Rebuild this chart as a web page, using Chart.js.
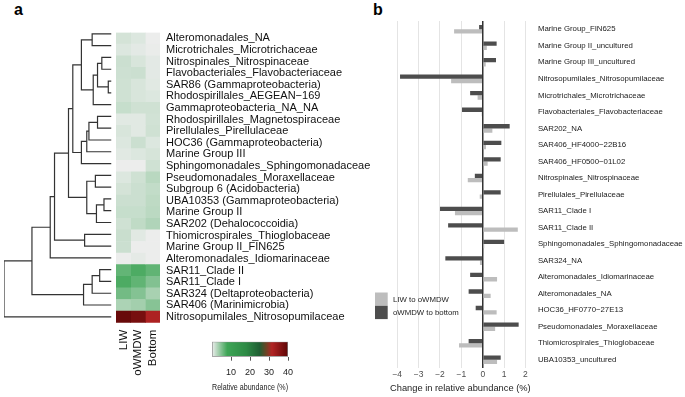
<!DOCTYPE html>
<html>
<head>
<meta charset="utf-8">
<script src="https://cdn.jsdelivr.net/npm/chart.js@4"></script>
<style>
  html, body { margin: 0; padding: 0; background: #fff; }
  #wrap { position: relative; width: 685px; height: 397px; overflow: hidden; font-family: "Liberation Sans", Arial, sans-serif; }
  canvas { position: absolute; }
  .panel { position: absolute; font-weight: bold; font-size: 16px; line-height: 16px; color: #000; }
</style>
</head>
<body>
<div id="wrap">
  <div class="panel" style="left:14px; top:1.5px">a</div>
  <div class="panel" style="left:373px; top:1.5px">b</div>
  <canvas id="dendro" width="116" height="310" style="left:0px; top:20px"></canvas>
  <canvas id="heat" width="260" height="375" style="left:110px; top:20px"></canvas>
  <canvas id="scale" width="110" height="67" style="left:195px; top:330px"></canvas>
  <canvas id="change" width="325" height="397" style="left:360px; top:0px"></canvas>
</div>
<script>
// panel a: heatmap rows (top to bottom) and relative abundance (%) per water mass
const rowNames = [
  "Alteromonadales_NA", "Microtrichales_Microtrichaceae", "Nitrospinales_Nitrospinaceae",
  "Flavobacteriales_Flavobacteriaceae", "SAR86 (Gammaproteobacteria)", "Rhodospirillales_AEGEAN\u2212169",
  "Gammaproteobacteria_NA_NA", "Rhodospirillales_Magnetospiraceae", "Pirellulales_Pirellulaceae",
  "HOC36 (Gammaproteobacteria)", "Marine Group III", "Sphingomonadales_Sphingomonadaceae",
  "Pseudomonadales_Moraxellaceae", "Subgroup 6 (Acidobacteria)", "UBA10353 (Gammaproteobacteria)",
  "Marine Group II", "SAR202 (Dehalococcoidia)", "Thiomicrospirales_Thioglobaceae",
  "Marine Group II_FIN625", "Alteromonadales_Idiomarinaceae", "SAR11_Clade II", "SAR11_Clade I",
  "SAR324 (Deltaproteobacteria)", "SAR406 (Marinimicrobia)", "Nitrosopumilales_Nitrosopumilaceae"
];
const columns = ["LIW", "oWMDW", "Bottom"];
const liw    = [1.2, 0.8, 1.6, 1.5, 1.4, 1.4, 1.8, 0.6, 1.0, 0.8, 0.6, 0.1, 0.8, 1.2, 1.6, 1.8, 1.4, 1.7, 1.6, 0.1, 6.3, 7.3, 5.6, 3.0, 39];
const owmdw  = [0.8, 0.5, 1.0, 1.6, 1.0, 1.0, 1.4, 0.6, 0.6, 1.6, 0.8, 0.1, 1.4, 1.6, 1.6, 1.8, 2.1, 0.6, 0.1, 0.4, 7.3, 6.4, 4.8, 3.4, 37.5];
const bottom = [0.1, 0.2, 0.5, 0.5, 0.6, 0.8, 1.4, 1.3, 1.4, 0.8, 1.1, 1.4, 2.4, 2.0, 2.2, 2.3, 2.8, 0.1, 0.1, 0.1, 6.4, 4.9, 3.2, 4.7, 32];
const legendTicks = [10, 20, 30, 40];

// dendrogram: [height, left, right], leaves are row indices
const tree = [1.0,
  [0.74,
    [0.57,
      [0.53,
        [0.40,
          [0.36,
            [0.28, [0.18, 0, 1], [0.17, [0.13, [0.09, 2, 3], [0.03, 4, 5]], 6]],
            [0.28, [0.23, [0.21, [0.13, 7, 8], 9], 10], 11]
          ],
          [0.23, [0.15, 12, 13], [0.14, [0.07, 14, 15], 16]]
        ],
        [0.25, 17, 18]
      ],
      19
    ],
    [0.26, [0.18, [0.11, 20, 21], 22], 23]
  ],
  24
];

// panel b
const changeCats = [
  "Marine Group_FIN625", "Marine Group II_uncultured", "Marine Group III_uncultured",
  "Nitrosopumilales_Nitrosopumilaceae", "Microtrichales_Microtrichaceae", "Flavobacteriales_Flavobacteriaceae",
  "SAR202_NA", "SAR406_HF4000\u221222B16", "SAR406_HF0500\u221201L02", "Nitrospinales_Nitrospinaceae",
  "Pirellulales_Pirellulaceae", "SAR11_Clade I", "SAR11_Clade II", "Sphingomonadales_Sphingomonadaceae",
  "SAR324_NA", "Alteromonadales_Idiomarinaceae", "Alteromonadales_NA", "HOC36_HF0770\u221227E13",
  "Pseudomonadales_Moraxellaceae", "Thiomicrospirales_Thioglobaceae", "UBA10353_uncultured"
];
const liwToOwmdw    = [-1.34, 0.19, 0.14, -1.48, -0.24, -0.05, 0.45, 0.15, 0.23, -0.70, -0.14, -1.30, 1.64, 0.07, -0.13, 0.67, 0.37, 0.65, 0.58, -1.11, 0.67];
const owmdwToBottom = [-0.17, 0.65, 0.62, -3.87, -0.59, -0.97, 1.26, 0.87, 0.84, -0.37, 0.84, -2.00, -1.62, 1.00, -1.75, -0.59, -0.66, -0.33, 1.68, -0.66, 0.84];
const changeTicks = [-4, -3, -2, -1, 0, 1, 2];

const colorStops = [
  [0, "#eeeeee"], [8, "#3ea556"], [18, "#2d8a45"], [25, "#1f5e33"],
  [28.5, "#6b4424"], [31.5, "#b22424"], [40, "#5e0606"]
];

Chart.defaults.font.family = '"Liberation Sans", Arial, sans-serif';
Chart.defaults.color = "#222";
Chart.defaults.animation = false;
Chart.defaults.plugins.legend.display = false;
Chart.defaults.plugins.tooltip.enabled = false;

function hexRgb(h) {
  return [1, 3, 5].map((i) => parseInt(h.slice(i, i + 2), 16));
}

function colorFor(v) {
  for (let i = 1; i < colorStops.length; i++) {
    const [v0, c0] = colorStops[i - 1];
    const [v1, c1] = colorStops[i];
    if (v <= v1 || i === colorStops.length - 1) {
      const t = Math.max(0, Math.min(1, (v - v0) / (v1 - v0)));
      const a = hexRgb(c0), b = hexRgb(c1);
      const rgb = a.map((x, k) => Math.round(x + (b[k] - x) * t));
      return `rgb(${rgb.join(",")})`;
    }
  }
}

// ---- dendrogram ----
const segments = [];
function walk(node) {
  if (typeof node === "number") return { h: 0, y: node };
  const [h, l, r] = node;
  const a = walk(l), b = walk(r);
  segments.push([
    { x: a.h, y: a.y }, { x: h, y: a.y }, { x: h, y: b.y }, { x: b.h, y: b.y }
  ]);
  return { h: h, y: (a.y + b.y) / 2 };
}
walk(tree);

new Chart(document.getElementById("dendro"), {
  type: "scatter",
  data: {
    datasets: segments.map((pts) => ({
      data: pts,
      showLine: true,
      borderColor: "#333",
      borderWidth: 1.2,
      pointRadius: 0,
    })),
  },
  options: {
    responsive: false,
    layout: { padding: { left: 4, right: 4.5, top: 8, bottom: 7.3 } },
    scales: {
      x: { type: "linear", min: 0, max: 1, reverse: true, display: false },
      y: { type: "linear", min: -0.5, max: 24.5, reverse: true, display: false },
    },
  },
});

// ---- heatmap ----
const columnValues = [liw, owmdw, bottom];
new Chart(document.getElementById("heat"), {
  type: "bar",
  data: {
    labels: rowNames,
    datasets: columnValues.map((vals, c) => ({
      label: columns[c],
      data: vals.map(() => [c, c + 1]),
      backgroundColor: vals.map(colorFor),
      borderWidth: 0,
      barPercentage: 1,
      categoryPercentage: 1,
      grouped: false,
    })),
  },
  options: {
    responsive: false,
    indexAxis: "y",
    layout: { padding: { left: 6, top: 8, right: 0, bottom: 0 } },
    scales: {
      x: { type: "linear", min: 0, max: 3, display: false },
      cols: {
        type: "category",
        labels: columns,
        position: "bottom",
        offset: true,
        grid: { display: false, drawTicks: false },
        border: { display: false },
        ticks: { autoSkip: false, minRotation: 90, maxRotation: 90, padding: 7, color: "#111", font: { size: 11.5 } },
        afterFit: (s) => { s.height = 72.3; },
      },
      y: {
        type: "category",
        position: "right",
        grid: { display: false, drawTicks: false },
        border: { display: false },
        ticks: { autoSkip: false, padding: 6, color: "#111", font: { size: 11 } },
        afterFit: (s) => { s.width = 210; },
      },
    },
  },
});

// ---- colour key ----
new Chart(document.getElementById("scale"), {
  type: "bar",
  data: {
    labels: ["key"],
    datasets: [{
      data: [[0, 40]],
      backgroundColor: (ctx) => {
        const chart = ctx.chart;
        if (!chart.chartArea) return "#eee";
        const xs = chart.scales.x;
        const g = chart.ctx.createLinearGradient(xs.getPixelForValue(0), 0, xs.getPixelForValue(40), 0);
        colorStops.forEach(([v, col]) => g.addColorStop(v / 40, col));
        return g;
      },
      borderColor: "#8a8a8a",
      borderWidth: 1,
      borderSkipped: false,
      barPercentage: 1,
      categoryPercentage: 1,
    }],
  },
  options: {
    responsive: false,
    indexAxis: "y",
    layout: { padding: { left: 17, right: 17, top: 11.7, bottom: 0 } },
    scales: {
      x: {
        type: "linear",
        min: 0,
        max: 40,
        afterBuildTicks: (s) => { s.ticks = legendTicks.map((v) => ({ value: v })); },
        grid: { drawOnChartArea: false, drawTicks: true, tickLength: 4, color: "#555" },
        border: { display: false },
        ticks: { padding: 6, maxRotation: 0, color: "#222", font: { size: 9 } },
        title: { display: true, text: "Relative abundance (%)", color: "#222", font: { size: 9 }, padding: { top: 2, bottom: 4 } },
        afterFit: (s) => { s.height = 40.3; },
      },
      y: { display: false },
    },
  },
});

// ---- panel b ----
const boxLegend = {
  id: "boxLegend",
  afterDraw(chart) {
    const c = chart.ctx;
    const items = chart.data.datasets.slice().reverse();
    c.save();
    c.font = '7.8px "Liberation Sans", Arial, sans-serif';
    c.textBaseline = "middle";
    items.forEach((ds, i) => {
      const y = 292.5 + i * 13.3;
      c.fillStyle = ds.backgroundColor;
      c.fillRect(15, y, 12.7, 13.3);
      c.fillStyle = "#222";
      c.fillText(ds.label, 33, y + 6.9);
    });
    c.restore();
  },
};

new Chart(document.getElementById("change"), {
  type: "bar",
  data: {
    labels: changeCats,
    datasets: [
      { label: "oWMDW to bottom", data: owmdwToBottom, backgroundColor: "#4d4d4d" },
      { label: "LIW to oWMDW", data: liwToOwmdw, backgroundColor: "#bdbdbd" },
    ],
  },
  options: {
    responsive: false,
    indexAxis: "y",
    datasets: { bar: { barPercentage: 1, categoryPercentage: 0.52, borderWidth: 0 } },
    layout: { padding: { left: 28.7, top: 21, right: 0, bottom: 0 } },
    scales: {
      x: {
        type: "linear",
        min: -4.4,
        max: 2.3,
        afterBuildTicks: (s) => { s.ticks = changeTicks.map((v) => ({ value: v })); },
        grid: {
          color: (ctx) => (ctx.tick && ctx.tick.value === 0 ? "#333" : "#e4e4e4"),
          lineWidth: (ctx) => (ctx.tick && ctx.tick.value === 0 ? 1.5 : 1),
          drawTicks: false,
        },
        border: { display: false },
        ticks: {
          padding: 2,
          color: "#4d4d4d",
          font: { size: 8.5 },
          callback: (v) => String(v).replace("-", "\u2212"),
        },
        title: { display: true, text: "Change in relative abundance (%)", color: "#222", font: { size: 9.3 }, padding: { top: 1, bottom: 3 } },
        afterFit: (s) => { s.height = 29; },
      },
      y: {
        type: "category",
        position: "right",
        grid: { display: false, drawTicks: false },
        border: { display: false },
        ticks: { autoSkip: false, padding: 6, color: "#222", font: { size: 7.8 } },
        afterFit: (s) => { s.width = 153.1; },
      },
    },
  },
  plugins: [boxLegend],
});
</script>
</body>
</html>
